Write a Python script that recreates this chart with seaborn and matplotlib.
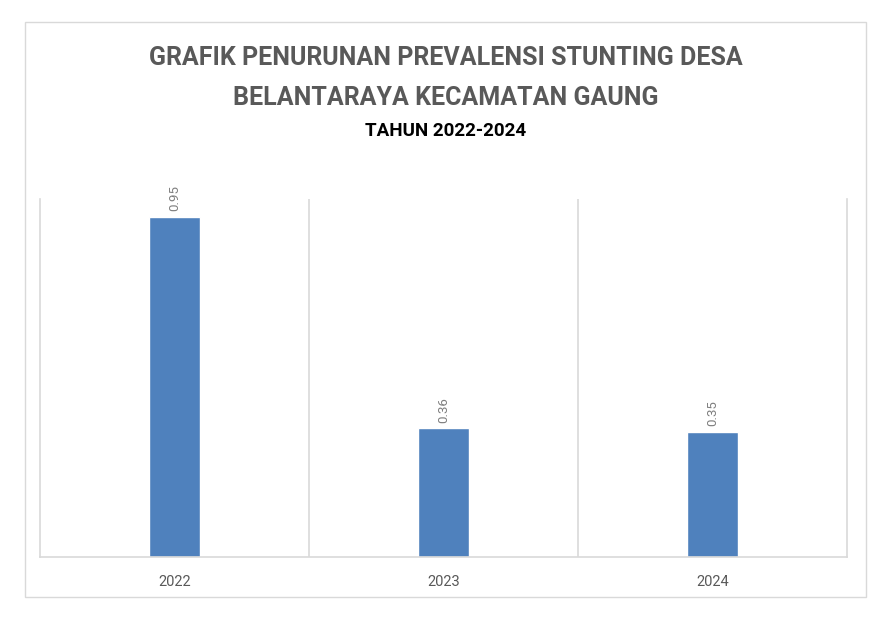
import matplotlib
matplotlib.use("Agg")
import matplotlib.pyplot as plt
import seaborn as sns
import pandas as pd
from matplotlib.patches import Rectangle

years = ["2022", "2023", "2024"]
prevalence = [0.95, 0.36, 0.35]
title_lines = ["GRAFIK PENURUNAN PREVALENSI STUNTING DESA", "BELANTARAYA KECAMATAN GAUNG"]
subtitle = "TAHUN 2022-2024"

sns.set_style("white")
plt.rcParams['font.family'] = ['Roboto', 'DejaVu Sans']

df = pd.DataFrame({'tahun': years, 'prevalensi': prevalence})

fig = plt.figure(figsize=(8.92, 6.24), dpi=100)
fig.patches.append(Rectangle((25 / 892, 1 - 597 / 624), 841 / 892, 575 / 624,
                             transform=fig.transFigure, fill=False,
                             edgecolor='#d9d9d9', linewidth=1))

ax = fig.add_axes([40 / 892, 1 - 557 / 624, 807 / 892, 358 / 624])
sns.barplot(data=df, x='tahun', y='prevalensi', color='#4f81bd', width=0.19,
            saturation=1, ax=ax)
ax.set_xlim(-0.5, len(years) - 0.5)
ax.set_ylim(0, 1.0)
ax.set_yticks([])
ax.set_xlabel('')
ax.set_ylabel('')
ax.spines['top'].set_visible(False)
for s in ['left', 'right', 'bottom']:
    ax.spines[s].set_color('#d9d9d9')
    ax.spines[s].set_linewidth(1.2)
for i in range(len(years) - 1):
    ax.axvline(i + 0.5, color='#d9d9d9', lw=1.2, zorder=0)
ax.tick_params(axis='x', length=0, pad=13, labelsize=10.5, labelcolor='#595959')

for i, v in enumerate(prevalence):
    ax.annotate(f"{v:.2f}", (i, v), xytext=(0, 4), textcoords='offset points',
                rotation=90, ha='center', va='bottom', fontsize=9.5, color='#7f7f7f')

fig.text(0.5, 1 - 58 / 624, title_lines[0], ha='center', va='center',
         fontsize=18, fontweight='bold', color='#595959')
fig.text(0.5, 1 - 98 / 624, title_lines[1], ha='center', va='center',
         fontsize=18, fontweight='bold', color='#595959')
fig.text(0.5, 1 - 131 / 624, subtitle, ha='center', va='center',
         fontsize=13.5, fontweight='bold', color='black')

fig.savefig('out.png', dpi=100)
